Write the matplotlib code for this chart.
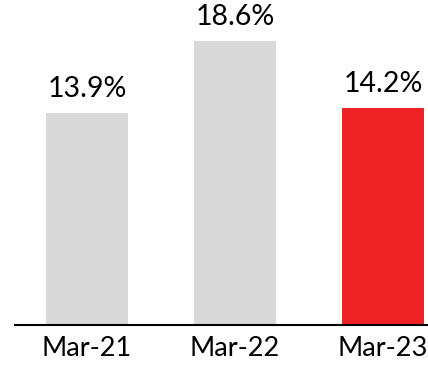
import matplotlib
matplotlib.use("Agg")
import matplotlib.pyplot as plt

# Return on capital by financial year end
periods = ["Mar-21", "Mar-22", "Mar-23"]
values  = [13.9, 18.6, 14.2]
labels  = ["13.9%", "18.6%", "14.2%"]
colors  = ["#D9D9D9", "#D9D9D9", "#EE2426"]

plt.rcParams["font.family"] = ["Lato", "DejaVu Sans"]

figure = plt.figure(figsize=(4.28, 3.71), dpi=100)
axis   = figure.add_axes([15/428, 46/371, 413/428, 325/371])

positions = range(len(values))
bars = axis.bar(positions, values, width=0.554, color=colors)

# Value labels above each bar.
for bar, label in zip(bars, labels):
    axis.annotate(label, (bar.get_x() + bar.get_width()/2, bar.get_height()),
                  xytext=(0, 8), textcoords="offset points",
                  ha="center", va="bottom", fontsize=20.5, color="black")

axis.set_xlim(-0.486, 2.304)
axis.set_ylim(0, 21.3)

axis.set_xticks(list(positions))
axis.set_xticklabels(periods, fontsize=19.5)
axis.tick_params(axis="x", length=0, pad=8)
axis.set_yticks([])

for side in ["top", "right", "left"]:
    axis.spines[side].set_visible(False)
axis.spines["bottom"].set_linewidth(1.5)

figure.savefig("out.png", dpi=100)
